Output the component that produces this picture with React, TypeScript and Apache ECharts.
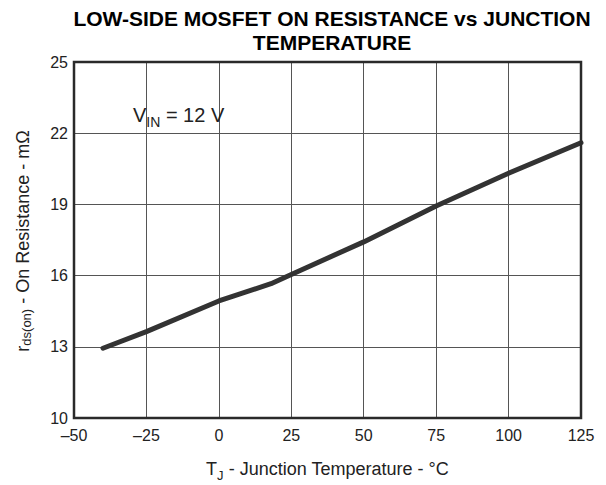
import React, { useEffect, useRef } from 'react';
import * as echarts from 'echarts';

// Junction temperature (°C) and low-side on resistance (mΩ)
const temperatures = [-40, -25, 0, 18, 25, 50, 75, 100, 125];
const resistance = [12.94, 13.64, 14.93, 15.66, 16.05, 17.42, 18.93, 20.31, 21.6];

const xMin = -50;
const xMax = 125;
const xStep = 25;
const yMin = 10;
const yMax = 25;
const yStep = 3;

const titleLines = ['LOW-SIDE MOSFET ON RESISTANCE vs JUNCTION', 'TEMPERATURE'];
const xName = ['T', 'J', ' - Junction Temperature - °C'];
const yName = ['r', 'ds(on)', ' - On Resistance - mΩ'];
const annotation = ['V', 'IN', ' = 12 V'];

const FF = '"Liberation Sans", Arial, Helvetica, sans-serif';
const INK = '#222';

function richPair(mainSize: number, subSize: number, pad: number) {
  return {
    m: { fontSize: mainSize, lineHeight: mainSize, verticalAlign: 'top', fontFamily: FF, fill: INK },
    s: { fontSize: subSize, lineHeight: subSize, verticalAlign: 'top', fontFamily: FF, fill: INK, padding: [pad, 0, 0, 0] },
  };
}

export default function App() {
  const ref = useRef<HTMLDivElement>(null);

  useEffect(() => {
    if (!ref.current) return;
    const chart = echarts.init(ref.current, undefined, { renderer: 'svg' });
    const data = temperatures.map((t, i) => [t, resistance[i]]);

    chart.setOption({
      animation: false,
      backgroundColor: '#ffffff',
      grid: {
        left: 74,
        right: 25,
        top: 62,
        bottom: 67,
        show: true,
        borderColor: '#2a2a2a',
        borderWidth: 2.5,
        backgroundColor: 'transparent',
        z: 5,
      },
      xAxis: {
        type: 'value',
        min: xMin,
        max: xMax,
        interval: xStep,
        axisLine: { show: false },
        axisTick: { show: false },
        splitLine: { show: true, lineStyle: { color: '#555', width: 1 } },
        axisLabel: {
          margin: 9,
          fontSize: 16,
          fontFamily: FF,
          color: INK,
          formatter: (v: number) => (v < 0 ? '\u2013' + Math.abs(v) : String(v)),
        },
      },
      yAxis: {
        type: 'value',
        min: yMin,
        max: yMax,
        interval: yStep,
        axisLine: { show: false },
        axisTick: { show: false },
        splitLine: { show: true, lineStyle: { color: '#555', width: 1 } },
        axisLabel: {
          margin: 6,
          fontSize: 16,
          fontFamily: FF,
          color: INK,
        },
      },
      series: [
        {
          type: 'line',
          data,
          showSymbol: false,
          symbol: 'none',
          smooth: false,
          lineStyle: { color: '#333333', width: 5, cap: 'round', join: 'round' },
          z: 3,
        },
      ],
      graphic: [
        {
          type: 'text',
          x: 332,
          y: 18.9,
          style: {
            text: titleLines[0],
            fontSize: 21,
            fontWeight: 'bold',
            fontFamily: FF,
            fill: '#000',
            align: 'center',
            textAlign: 'center',
            verticalAlign: 'middle',
            textVerticalAlign: 'middle',
          },
        },
        {
          type: 'text',
          x: 332,
          y: 42.2,
          style: {
            text: titleLines[1],
            fontSize: 21,
            fontWeight: 'bold',
            fontFamily: FF,
            fill: '#000',
            align: 'center',
            textAlign: 'center',
            verticalAlign: 'middle',
            textVerticalAlign: 'middle',
          },
        },
        {
          type: 'text',
          x: 327.5,
          y: 469,
          style: {
            text: `{m|${xName[0]}}{s|${xName[1]}}{m|${xName[2]}}`,
            rich: richPair(18, 13, 9),
            align: 'center',
            textAlign: 'center',
            verticalAlign: 'middle',
            textVerticalAlign: 'middle',
          },
        },
        {
          type: 'text',
          x: 22.7,
          y: 241,
          rotation: Math.PI / 2,
          style: {
            text: `{m|${yName[0]}}{s|${yName[1]}}{m|${yName[2]}}`,
            rich: richPair(18, 13, 6.5),
            align: 'center',
            textAlign: 'center',
            verticalAlign: 'middle',
            textVerticalAlign: 'middle',
          },
        },
        {
          type: 'text',
          x: 133,
          y: 104.5,
          z: 10,
          style: {
            text: `{m|${annotation[0]}}{s|${annotation[1]}}{m|${annotation[2]}}`,
            rich: richPair(20, 14, 10),
            align: 'left',
            textAlign: 'left',
            verticalAlign: 'top',
            textVerticalAlign: 'top',
          },
        },
      ],
    });

    return () => {
      chart.dispose();
    };
  }, []);

  return (
    <div
      ref={ref}
      style={{ position: 'fixed', left: 0, top: 0, width: 606, height: 485, background: '#fff' }}
    />
  );
}
